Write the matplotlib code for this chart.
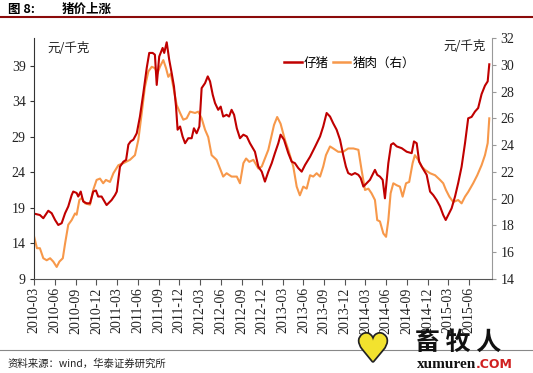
import matplotlib
matplotlib.use("Agg")
import matplotlib.pyplot as plt
import matplotlib.patheffects as pe
from matplotlib.lines import Line2D
import pandas as pd

CJK = ['Noto Sans CJK SC', 'DejaVu Sans']
SERIF = 'Liberation Serif'

start = pd.Timestamp('2010-03-01')

# 仔猪 (left axis) : day offsets from 2010-03-01 and prices
piglet_days = [0, 26, 41, 63, 78, 93, 107, 122, 137, 151,
               166, 173, 188, 195, 206, 217, 232, 247, 261, 273,
               283, 298, 320, 342, 357, 365, 379, 394, 406, 416,
               426, 438, 453, 467, 482, 497, 508, 523, 533, 541,
               552, 567, 574, 585, 596, 607, 617, 626, 633, 644,
               655, 666, 680, 695, 705, 717, 729, 739, 754, 766,
               776, 788, 798, 812, 823, 834, 849, 860, 871, 882,
               894, 908, 923, 938, 952, 974, 989, 1004, 1018, 1033,
               1048, 1062, 1077, 1087, 1102, 1121, 1136, 1150, 1165, 1180,
               1195, 1217, 1239, 1261, 1275, 1290, 1305, 1319, 1334, 1349,
               1363, 1375, 1385, 1400, 1415, 1430, 1440, 1452, 1467, 1481,
               1496, 1503, 1513, 1525, 1537, 1547, 1562, 1574, 1584, 1599,
               1621, 1643, 1665, 1675, 1687, 1698, 1713, 1731, 1746, 1760,
               1775, 1790, 1804, 1815, 1826, 1841, 1856, 1870, 1885, 1900,
               1914, 1929, 1944, 1958, 1973, 1988, 2000, 2007]
piglet_vals = [18.2, 18.0, 17.55, 18.6, 18.25, 17.3, 16.6, 16.85, 18.25, 19.2,
               20.8, 21.3, 21.1, 20.6, 21.3, 19.9, 19.65, 19.65, 21.3, 21.45,
               20.6, 20.6, 19.4, 20.1, 20.8, 21.3, 24.8, 25.5, 25.75, 27.9,
               28.35, 28.6, 29.5, 31.85, 35.15, 38.7, 40.8, 40.8, 40.55, 36.3,
               40.3, 41.5, 40.8, 42.3, 39.85, 37.95, 36.1, 33.3, 30.0, 30.45,
               29.05, 28.1, 28.8, 28.8, 30.2, 29.5, 30.45, 35.85, 36.55, 37.5,
               36.8, 34.9, 33.75, 32.8, 33.25, 31.85, 32.1, 31.85, 32.8, 32.1,
               30.2, 28.8, 29.3, 29.05, 28.1, 26.9, 24.8, 24.1, 22.7, 24.1,
               25.3, 26.7, 28.1, 29.3, 28.6, 26.7, 25.5, 25.3, 24.6, 24.1,
               25.05, 26.2, 27.6, 29.05, 30.45, 32.35, 31.85, 30.9, 30.0, 28.6,
               26.45, 24.8, 23.9, 23.65, 23.9, 23.65, 23.2, 22.0, 22.5, 22.95,
               23.9, 24.35, 23.65, 23.4, 22.95, 20.35, 25.3, 27.9, 28.1, 27.65,
               27.4, 26.9, 26.7, 28.35, 28.1, 25.5, 24.6, 23.65, 21.3, 20.8,
               20.1, 19.2, 18.0, 17.3, 18.0, 18.95, 20.6, 22.5, 24.8, 28.1,
               31.6, 31.8, 32.55, 33.05, 35.0, 36.2, 36.8, 39.2]

# 猪肉 (right axis)
pork_days = [0, 13, 26, 41, 56, 71, 85, 100, 112, 127,
             137, 151, 166, 181, 188, 200, 210, 225, 247, 261,
             276, 291, 305, 317, 335, 350, 372, 394, 423, 445,
             460, 475, 489, 504, 519, 533, 544, 555, 570, 582,
             592, 603, 614, 629, 644, 658, 673, 688, 710, 724,
             739, 754, 768, 783, 805, 820, 834, 849, 871, 894,
             908, 923, 935, 949, 967, 989, 1004, 1018, 1033, 1048,
             1058, 1072, 1087, 1106, 1121, 1143, 1158, 1172, 1187, 1202,
             1217, 1231, 1246, 1261, 1275, 1287, 1305, 1319, 1341, 1363,
             1385, 1408, 1430, 1444, 1459, 1474, 1488, 1503, 1513, 1525,
             1540, 1552, 1562, 1572, 1584, 1599, 1613, 1625, 1640, 1654,
             1669, 1679, 1694, 1709, 1724, 1746, 1768, 1790, 1804, 1816,
             1831, 1848, 1870, 1885, 1900, 1914, 1936, 1954, 1973, 1988,
             2000, 2007]
pork_vals = [17.2, 16.3, 16.3, 15.55, 15.4, 15.55, 15.3, 14.9, 15.3, 15.55,
             16.65, 18.05, 18.4, 18.9, 18.8, 19.9, 20.05, 19.65, 19.55, 20.65,
             21.4, 21.5, 21.15, 21.4, 21.25, 21.9, 22.5, 22.65, 22.9, 23.25,
             24.4, 26.4, 28.35, 29.5, 29.85, 29.75, 29.35, 29.85, 30.35, 29.75,
             29.1, 29.35, 28.35, 27.0, 26.4, 25.9, 26.0, 26.5, 26.4, 26.5,
             26.0, 25.15, 24.6, 23.25, 22.9, 22.25, 21.65, 21.9, 21.65, 21.65,
             21.15, 22.65, 23.0, 22.75, 22.9, 22.25, 22.4, 23.0, 23.65, 24.75,
             25.5, 26.1, 25.6, 24.4, 23.65, 22.4, 20.9, 20.25, 20.9, 20.75,
             21.75, 21.65, 21.9, 21.65, 22.4, 23.25, 23.9, 23.75, 23.5, 23.5,
             23.75, 23.75, 23.65, 22.15, 20.65, 20.75, 20.4, 19.9, 18.4, 18.3,
             17.4, 17.15, 18.4, 20.4, 21.15, 21.0, 20.9, 20.15, 21.15, 21.25,
             22.65, 23.25, 22.9, 22.4, 22.15, 21.9, 21.75, 21.4, 21.15, 20.65,
             20.15, 19.75, 19.9, 19.65, 20.15, 20.5, 21.15, 21.75, 22.5, 23.25,
             24.15, 26.0]

left_ticks = [9, 14, 19, 24, 29, 34, 39]
right_ticks = [14, 16, 18, 20, 22, 24, 26, 28, 30, 32]
x_tick_labels = ['2010-03', '2010-06', '2010-09', '2010-12', '2011-03', '2011-06',
                 '2011-09', '2011-12', '2012-03', '2012-06', '2012-09', '2012-12',
                 '2013-03', '2013-06', '2013-09', '2013-12', '2014-03', '2014-06',
                 '2014-09', '2014-12', '2015-03', '2015-06']

piglet_dates = start + pd.to_timedelta(piglet_days, unit='D')
pork_dates = start + pd.to_timedelta(pork_days, unit='D')
tick_dates = pd.to_datetime([s + '-01' for s in x_tick_labels])

RED = '#C00000'
ORANGE = '#F7984A'

W, H = 533, 373
fig = plt.figure(figsize=(W / 100, H / 100), dpi=100)
ax = fig.add_axes([34 / W, 1 - 279 / H, (492 - 34) / W, (279 - 38) / H])
ax2 = ax.twinx()
ax.set_zorder(ax2.get_zorder() + 1)
ax.patch.set_visible(False)

ax2.plot(pork_dates, pork_vals, color=ORANGE, lw=1.5, solid_joinstyle='round')
ax.plot(piglet_dates, piglet_vals, color=RED, lw=1.5, solid_joinstyle='round')

ax.set_xlim(start, start + pd.Timedelta(days=2019))
ax.set_ylim(9, 42.9)
ax2.set_ylim(14, 32)
ax.set_yticks(left_ticks)
ax2.set_yticks(right_ticks)
ax.set_xticks(tick_dates)
ax.set_xticklabels(x_tick_labels, rotation=90)

for a in (ax, ax2):
    a.spines['top'].set_visible(False)
ax.spines['left'].set_color('#333333')
ax.spines['bottom'].set_color('#555555')
ax.spines['right'].set_visible(False)
ax2.spines['left'].set_visible(False)
ax2.spines['bottom'].set_visible(False)
ax2.spines['right'].set_color('#999999')

ax.tick_params(axis='y', direction='out', length=3, width=0.8, color='#333333',
               labelsize=10, pad=3)
ax.tick_params(axis='x', direction='out', length=4, width=0.8, color='#555555',
               labelsize=10, pad=2)
ax2.tick_params(axis='y', direction='out', length=3, width=0.8, color='#999999',
                labelsize=10, pad=3)
for lab in ax.get_xticklabels() + ax.get_yticklabels() + ax2.get_yticklabels():
    lab.set_fontfamily(SERIF)
    lab.set_color('#222222')

# unit labels
fig.text(47 / W, 1 - 48 / H, '元/千克', family=CJK, fontsize=9, color='#222222',
         ha='left', va='center')
fig.text(486 / W, 1 - 46 / H, '元/千克', family=CJK, fontsize=9, color='#222222',
         ha='right', va='center')

# legend
handles = [Line2D([], [], color=RED, lw=1.8), Line2D([], [], color=ORANGE, lw=1.8)]
fig.legend(handles, ['仔猪', '猪肉（右）'], loc='center left',
           bbox_to_anchor=(284 / W, 1 - 63 / H), ncol=2, frameon=False,
           prop={'family': CJK, 'size': 9}, handlelength=1.4, handletextpad=0.2,
           columnspacing=0.3, borderpad=0, borderaxespad=0)

# header
fig.text(8 / W, 1 - 9 / H, '图 8:', family=CJK, fontsize=9, fontweight='bold',
         ha='left', va='center')
fig.text(62 / W, 1 - 9 / H, '猪价上涨', family=CJK, fontsize=9, fontweight='bold',
         ha='left', va='center')
fig.add_artist(Line2D([0, 1], [1 - 17 / H, 1 - 17 / H], color='#8B0A0A', lw=1.5,
                      transform=fig.transFigure))

# footer
fig.add_artist(Line2D([0, 1], [1 - 350 / H, 1 - 350 / H], color='#888888', lw=0.8,
                      transform=fig.transFigure))
fig.text(8 / W, 1 - 364 / H, '资料来源：wind，华泰证券研究所', family=CJK, fontsize=7.5,
         style='italic', ha='left', va='center', color='#222222')

# watermark logo
fig.text(373 / W, 1 - 351 / H, '♥', family='DejaVu Sans', fontsize=27, color='#F2E22E',
         ha='center', va='center',
         path_effects=[pe.withStroke(linewidth=2.5, foreground='#222222')])
fig.text(458 / W, 1 - 343 / H, '畜 牧 人', family=CJK, fontsize=18, fontweight='bold',
         ha='center', va='center', color='#111111')
fig.text(476 / W, 1 - 368 / H, 'xumuren', family=SERIF, fontsize=11, fontweight='bold',
         ha='right', va='baseline', color='#111111')
fig.text(476 / W, 1 - 368 / H, '.COM', family='DejaVu Sans', fontsize=9, fontweight='bold',
         ha='left', va='baseline', color='#D02020')

fig.savefig('out.png', dpi=100)
